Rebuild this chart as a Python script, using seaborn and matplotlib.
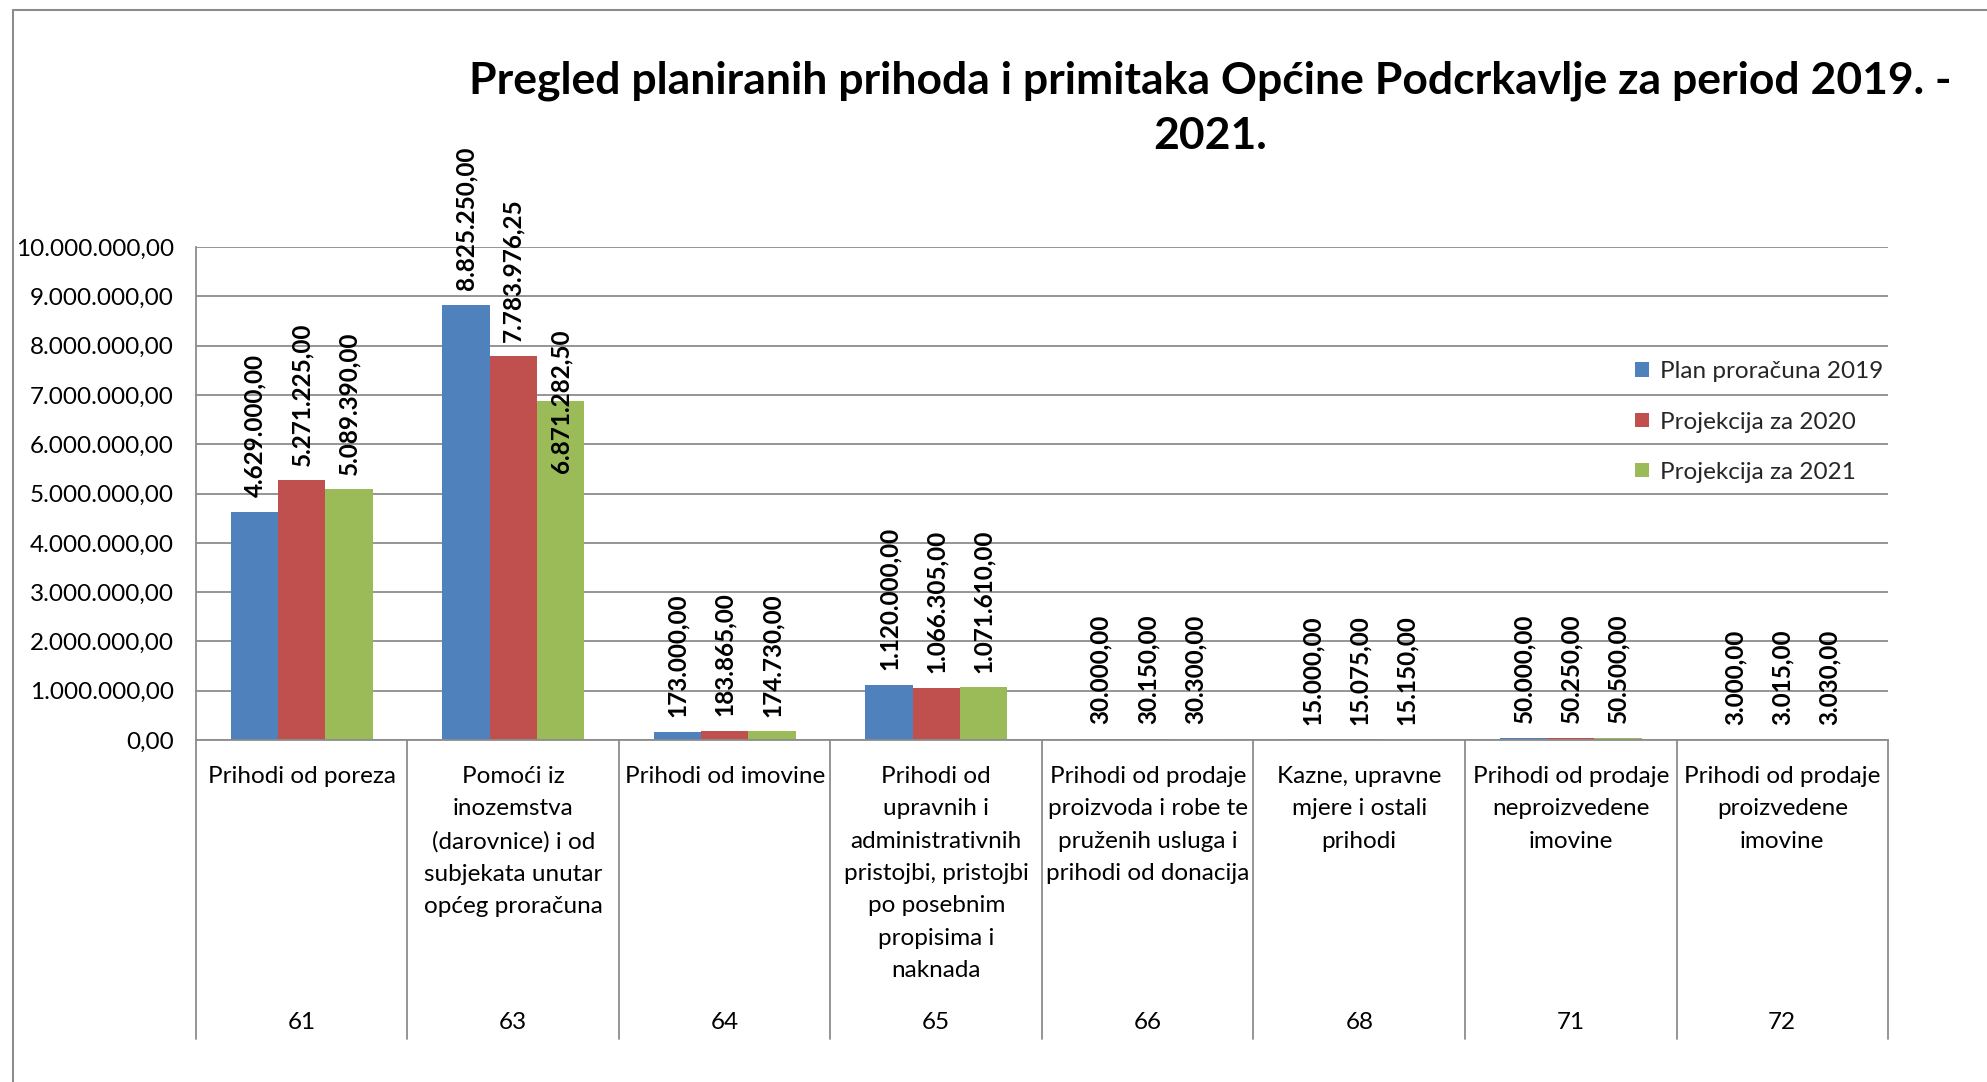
import matplotlib
matplotlib.use("Agg")
import matplotlib.pyplot as plt
import matplotlib.transforms as mtransforms
from matplotlib.lines import Line2D
import seaborn as sns
import pandas as pd

# ---- data ----
codes = ['61', '63', '64', '65', '66', '68', '71', '72']
names = [
    "Prihodi od poreza",
    "Pomoći iz\ninozemstva\n(darovnice) i od\nsubjekata unutar\nopćeg proračuna",
    "Prihodi od imovine",
    "Prihodi od\nupravnih i\nadministrativnih\npristojbi, pristojbi\npo posebnim\npropisima i\nnaknada",
    "Prihodi od prodaje\nproizvoda i robe te\npruženih usluga i\nprihodi od donacija",
    "Kazne, upravne\nmjere i ostali\nprihodi",
    "Prihodi od prodaje\nneproizvedene\nimovine",
    "Prihodi od prodaje\nproizvedene\nimovine",
]
series = ['Plan proračuna 2019', 'Projekcija za 2020', 'Projekcija za 2021']
plan_2019 = [4629000.00, 8825250.00, 173000.00, 1120000.00, 30000.00, 15000.00, 50000.00, 3000.00]
proj_2020 = [5271225.00, 7783976.25, 183865.00, 1066305.00, 30150.00, 15075.00, 50250.00, 3015.00]
proj_2021 = [5089390.00, 6871282.50, 174730.00, 1071610.00, 30300.00, 15150.00, 50500.00, 3030.00]
title = "Pregled planiranih prihoda i primitaka Općine Podcrkavlje za period 2019. -\n2021."

colors = ['#4F81BD', '#C0504D', '#9BBB59']
grid_c = '#8C8C8C'
FS = 17.5

rows = []
for s, vals in zip(series, [plan_2019, proj_2020, proj_2021]):
    for c, v in zip(codes, vals):
        rows.append({'code': c, 'value': v, 'series': s})
df = pd.DataFrame(rows)

def hr(v):
    s = f"{v:,.2f}"
    return s.replace(',', 'X').replace('.', ',').replace('X', '.')

sns.set_theme(style='white')
plt.rcParams['font.family'] = ['Lato', 'DejaVu Sans']

fig = plt.figure(figsize=(19.87, 10.82), dpi=100)
ax = fig.add_axes([0.0986, 0.316, 0.8516, 0.4557])

sns.barplot(data=df, x='code', y='value', hue='series', order=codes,
            hue_order=series, palette=colors, width=0.67, saturation=1,
            linewidth=0, errorbar=None, ax=ax)

ax.set_xlim(-0.5, len(codes) - 0.5)
ax.set_ylim(0, 10_000_000)
ax.set_yticks(range(0, 10_000_001, 1_000_000))
ax.set_yticklabels([hr(t) for t in range(0, 10_000_001, 1_000_000)], fontsize=FS)
ax.tick_params(axis='y', length=0, pad=16, colors='black')
ax.set_xticks([])
ax.set_xlabel('')
ax.set_ylabel('')
ax.yaxis.grid(True, color=grid_c, linewidth=1.3)
ax.set_axisbelow(True)
for side in ['top', 'right']:
    ax.spines[side].set_visible(False)
for side in ['left', 'bottom']:
    ax.spines[side].set_color(grid_c)
    ax.spines[side].set_linewidth(1.3)

# data labels
for si, cont in enumerate(ax.containers):
    for ci, bar in enumerate(cont):
        h = bar.get_height()
        xc = bar.get_x() + bar.get_width() / 2
        if si == 2 and ci == 1:
            ax.annotate(hr(h), (xc, h), xytext=(0, 0), textcoords='offset points',
                        rotation=90, ha='center', va='center', fontsize=FS,
                        fontweight='bold', color='black')
        else:
            ax.annotate(hr(h), (xc, h), xytext=(0, 10.5), textcoords='offset points',
                        rotation=90, ha='center', va='bottom', fontsize=FS,
                        fontweight='bold', color='black')

# multi-level category axis
trans = mtransforms.blended_transform_factory(ax.transData, ax.transAxes)
for i in range(len(codes) + 1):
    ax.add_line(Line2D([i - 0.5, i - 0.5], [0, -0.606], transform=trans,
                       color=grid_c, linewidth=1.3, clip_on=False))
for i, (c, n) in enumerate(zip(codes, names)):
    ax.text(i, -0.052, n, transform=trans, ha='center', va='top', fontsize=FS,
            linespacing=1.67, color='black')
    ax.text(i, -0.573, c, transform=trans, ha='center', va='center', fontsize=FS,
            color='black')

# legend
handles, labels = ax.get_legend_handles_labels()
ax.legend(handles, labels, loc='upper left', bbox_to_anchor=(0.823, 0.666),
          bbox_transform=fig.transFigure, frameon=False, fontsize=FS,
          handlelength=0.55, handleheight=0.55, handletextpad=0.45,
          labelspacing=1.2, borderaxespad=0, borderpad=0)

# title
fig.text(0.609, 0.900, title, ha='center', va='center', fontsize=32,
         fontweight='bold', linespacing=1.45, color='black')

# outer chart border (cropped)
fig.add_artist(Line2D([0.0064, 0.0064], [0.9908, 0.0], transform=fig.transFigure,
                      color=grid_c, linewidth=1.5))
fig.add_artist(Line2D([0.0064, 1.0], [0.9908, 0.9908], transform=fig.transFigure,
                      color=grid_c, linewidth=1.5))

fig.savefig('out.png', dpi=100, facecolor='white')
